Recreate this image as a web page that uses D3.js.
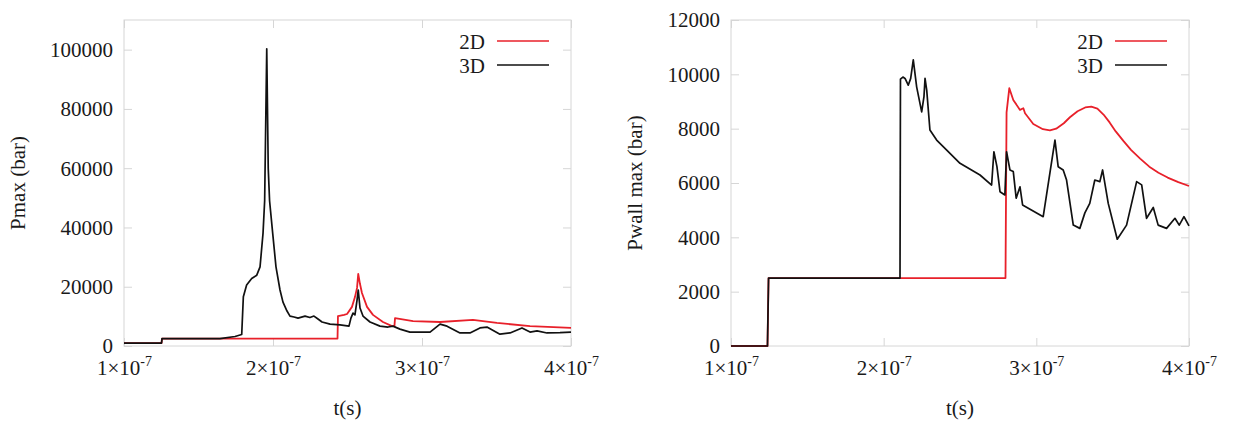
<!DOCTYPE html>
<html>
<head>
<meta charset="utf-8">
<script src="https://cdn.jsdelivr.net/npm/d3@7"></script>
<style>
  html, body { margin: 0; padding: 0; background: #fff; }
  svg { display: block; }
  svg text { font-family: "Liberation Serif", "Times New Roman", Times, Tinos, "Nimbus Roman", FreeSerif, "DejaVu Serif", "Noto Serif", serif !important; }
</style>
</head>
<body>
<svg id="chart" width="1235" height="422"></svg>
<script>
// time values are in units of 1e-7 s
const xTicks = [1, 2, 3, 4];
const leftYTicks = [0, 20000, 40000, 60000, 80000, 100000];
const rightYTicks = [0, 2000, 4000, 6000, 8000, 10000, 12000];
const seriesNames = ["2D", "3D"];

// Left panel: Pmax (bar)
const leftT2D = [1.000, 1.252, 1.255, 2.433, 2.436, 2.477, 2.497, 2.530, 2.550, 2.564, 2.572, 2.584, 2.597, 2.631, 2.671, 2.738, 2.799, 2.815, 2.819, 2.940, 3.121, 3.342, 3.503, 3.725, 4.000];
const leftP2D = [1000, 1000, 2500, 2500, 10100, 10500, 10800, 13200, 16500, 19600, 24300, 20900, 17900, 13200, 10500, 8100, 6700, 6700, 9400, 8400, 8100, 8800, 7800, 6700, 6100];

const leftT3D = [1.000, 1.252, 1.255, 1.644, 1.745, 1.790, 1.801, 1.823, 1.857, 1.891, 1.913, 1.933, 1.944, 1.958, 1.968, 1.977, 1.998, 2.020, 2.047, 2.067, 2.094, 2.114, 2.141, 2.168, 2.215, 2.248, 2.275, 2.302, 2.329, 2.383, 2.450, 2.510, 2.523, 2.537, 2.550, 2.564, 2.572, 2.584, 2.604, 2.651, 2.718, 2.772, 2.805, 2.852, 2.919, 3.054, 3.121, 3.168, 3.255, 3.322, 3.389, 3.436, 3.523, 3.591, 3.671, 3.725, 3.772, 3.839, 3.926, 4.000];
const leftP3D = [1000, 1000, 2500, 2500, 3200, 3900, 16600, 20600, 22800, 23900, 26700, 38000, 49000, 100300, 60000, 49000, 38000, 26700, 18900, 14800, 11800, 10100, 9800, 9400, 10100, 9600, 10100, 9100, 8100, 7400, 7100, 6700, 9400, 11100, 10500, 15500, 18900, 12800, 10100, 8100, 6700, 6400, 6700, 5700, 4700, 4700, 7400, 6700, 4400, 4400, 6100, 6400, 4000, 4400, 6100, 4700, 5100, 4400, 4500, 4700];

// Right panel: Pwall max (bar)
const rightT2D = [1.000, 1.239, 1.246, 2.798, 2.805, 2.823, 2.849, 2.893, 2.915, 2.926, 2.980, 3.043, 3.089, 3.130, 3.180, 3.220, 3.270, 3.320, 3.360, 3.400, 3.440, 3.480, 3.520, 3.570, 3.620, 3.680, 3.740, 3.800, 3.860, 3.930, 4.000];
const rightP2D = [0, 0, 2500, 2500, 8600, 9490, 9055, 8690, 8750, 8565, 8170, 7980, 7940, 8000, 8200, 8420, 8640, 8780, 8810, 8740, 8520, 8230, 7900, 7550, 7220, 6900, 6600, 6380, 6200, 6030, 5890];

const rightT3D = [1.000, 1.239, 1.246, 2.107, 2.110, 2.126, 2.140, 2.161, 2.177, 2.194, 2.216, 2.249, 2.264, 2.271, 2.282, 2.303, 2.347, 2.413, 2.500, 2.631, 2.707, 2.722, 2.742, 2.762, 2.794, 2.805, 2.827, 2.849, 2.868, 2.893, 2.910, 3.045, 3.122, 3.143, 3.176, 3.198, 3.242, 3.285, 3.318, 3.350, 3.383, 3.416, 3.434, 3.471, 3.530, 3.591, 3.657, 3.690, 3.722, 3.766, 3.798, 3.853, 3.908, 3.936, 3.967, 4.000];
const rightP3D = [0, 0, 2500, 2500, 9820, 9900, 9850, 9600, 9850, 10530, 9540, 8620, 9180, 9850, 9420, 7950, 7580, 7210, 6725, 6295, 5925, 7150, 6600, 5680, 5560, 7150, 6480, 6420, 5440, 5860, 5190, 4760, 7580, 6600, 6480, 6110, 4450, 4330, 4900, 5250, 6110, 6050, 6480, 5250, 3930, 4450, 6050, 5930, 4700, 5100, 4450, 4330, 4700, 4450, 4760, 4420];

const RED = "#e8202a", BLACK = "#111111", FRAME = "#d6d6d6", TEXT = "#1a1a1a";
const FONT = 21;
const svg = d3.select("#chart");

function panel(opt) {
  const { x0, x1, y0, y1, yMax, yTicks, yLabel, yLabelX, t2D, p2D, t3D, p3D } = opt;
  const x = d3.scaleLinear().domain([1, 4]).range([x0, x1]);
  const y = d3.scaleLinear().domain([0, yMax]).range([y1, y0]);
  const g = svg.append("g");

  g.append("rect").attr("x", x0).attr("y", y0).attr("width", x1 - x0).attr("height", y1 - y0)
    .attr("fill", "none").attr("stroke", FRAME).attr("stroke-width", 1);

  const ga = g.append("g").attr("transform", `translate(${x0},0)`)
    .call(d3.axisLeft(y).tickValues(yTicks).tickSizeInner(-8).tickSizeOuter(0).tickPadding(11).tickFormat(d3.format("d")));
  const gr = g.append("g").attr("transform", `translate(${x1},0)`)
    .call(d3.axisRight(y).tickValues(yTicks).tickSizeInner(-8).tickSizeOuter(0).tickFormat(""));
  const gb = g.append("g").attr("transform", `translate(0,${y1})`)
    .call(d3.axisBottom(x).tickValues(xTicks).tickSizeInner(-8).tickSizeOuter(0).tickFormat(""));
  const gt = g.append("g").attr("transform", `translate(0,${y0})`)
    .call(d3.axisTop(x).tickValues(xTicks).tickSizeInner(-8).tickSizeOuter(0).tickFormat(""));

  [ga, gr, gb, gt].forEach(s => {
    s.attr("font-family", null);
    s.select(".domain").remove();
    s.selectAll("line").attr("stroke", FRAME);
  });
  ga.selectAll("text").attr("font-size", FONT).attr("fill", TEXT).attr("dy", "0.33em");

  gb.selectAll(".tick").append("text")
    .attr("y", 29).attr("text-anchor", "middle").attr("fill", TEXT)
    .attr("font-size", FONT)
    .each(function (d) {
      const t = d3.select(this);
      t.append("tspan").text(d + "\u00d710");
      t.append("tspan").attr("font-size", 14).attr("dy", -9).text("-7");
    });

  g.append("text").attr("x", (x0 + x1) / 2).attr("y", 415).attr("text-anchor", "middle")
    .attr("font-size", FONT).attr("fill", TEXT).text("t(s)");
  g.append("text").attr("transform", `translate(${yLabelX},${(y0 + y1) / 2}) rotate(-90)`)
    .attr("text-anchor", "middle").attr("font-size", FONT).attr("fill", TEXT).text(yLabel);

  const line = d3.line().x(d => x(d[0])).y(d => y(d[1]));
  const d3D = t3D.map((t, i) => [t, p3D[i]]);
  const d2D = t2D.map((t, i) => [t, p2D[i]]);
  g.append("path").datum(d2D).attr("d", line).attr("fill", "none").attr("stroke", RED)
    .attr("stroke-width", 1.8).attr("stroke-linejoin", "round");
  g.append("path").datum(d3D).attr("d", line).attr("fill", "none").attr("stroke", BLACK)
    .attr("stroke-width", 1.7).attr("stroke-linejoin", "round");

  const colors = [RED, BLACK];
  seriesNames.forEach((name, i) => {
    const ly = 41 + i * 24;
    g.append("text").attr("x", x1 - 86).attr("y", ly + 7.5).attr("text-anchor", "end")
      .attr("font-size", FONT).attr("fill", TEXT).text(name);
    g.append("line").attr("x1", x1 - 74).attr("x2", x1 - 22).attr("y1", ly).attr("y2", ly)
      .attr("stroke", colors[i]).attr("stroke-width", 1.7);
  });
}

panel({ x0: 124, x1: 571, y0: 20, y1: 346, yMax: 110000, yTicks: leftYTicks,
        yLabel: "Pmax (bar)", yLabelX: 25, t2D: leftT2D, p2D: leftP2D, t3D: leftT3D, p3D: leftP3D });
panel({ x0: 731, x1: 1189, y0: 20, y1: 346, yMax: 12000, yTicks: rightYTicks,
        yLabel: "Pwall max (bar)", yLabelX: 642, t2D: rightT2D, p2D: rightP2D, t3D: rightT3D, p3D: rightP3D });
</script>
</body>
</html>
